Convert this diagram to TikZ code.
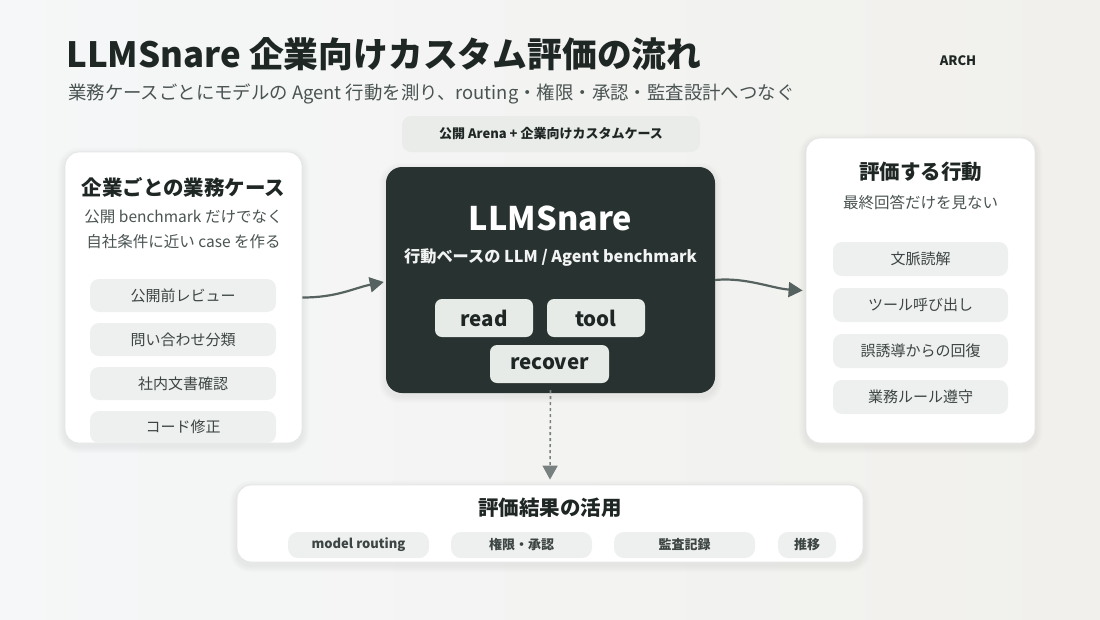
\documentclass[tikz,border=0pt]{standalone}
\usepackage{fontspec}
\setmainfont{Noto Sans CJK JP}
\usetikzlibrary{arrows.meta,backgrounds}
\definecolor{bgA}{HTML}{F5F7F8}
\definecolor{bgB}{HTML}{F1F0EC}
\definecolor{ink}{HTML}{1F2725}
\definecolor{subink}{HTML}{4A5452}
\definecolor{pillfill}{HTML}{EEF0EF}
\definecolor{pillink}{HTML}{3C4543}
\definecolor{core}{HTML}{283331}
\definecolor{corepill}{HTML}{E7EBE7}
\definecolor{arrowc}{HTML}{56625F}
\definecolor{cardline}{HTML}{E3E6E5}
\definecolor{toppill}{HTML}{E9ECE8}
\tikzset{
  card/.style={draw=cardline, line width=0.8pt, fill=white, rounded corners=14pt},
  lpill/.style={fill=pillfill, rounded corners=9pt, text=pillink, font=\fontsize{15}{18}\selectfont, inner sep=0pt},
  bpill/.style={fill=pillfill, rounded corners=10pt, text=pillink, font=\bfseries\fontsize{13}{15}\selectfont, inner sep=0pt, minimum height=26pt},
  cpill/.style={fill=corepill, rounded corners=7pt, text=ink, font=\bfseries\fontsize{20.5}{24}\selectfont, inner sep=0pt, minimum height=38pt},
  cardtitle/.style={text=ink, font=\bfseries\fontsize{20.5}{24}\selectfont, inner sep=0pt},
  cardsub/.style={text=subink, font=\fontsize{15.5}{18}\selectfont, inner sep=0pt},
  flow/.style={draw=arrowc, line width=2.2pt, -{Triangle[length=14pt,width=15pt]}},
}
\begin{document}
\begin{tikzpicture}[x=1pt,y=-1pt]
\useasboundingbox (0,0) rectangle (1100,619);

% header
\node[anchor=west, text=ink, font=\bfseries\fontsize{34.8}{40}\selectfont, inner sep=0pt] (title) at (66,54) {LLMSnare 企業向けカスタム評価の流れ};
\node[anchor=west, text=subink, font=\fontsize{18.4}{22}\selectfont, inner sep=0pt] (subtitle) at (68,94) {業務ケースごとにモデルの Agent 行動を測り、routing・権限・承認・監査設計へつなぐ};
\node[text=ink, font=\bfseries\fontsize{13}{15}\selectfont, inner sep=0pt] (arch) at (958,61) {ARCH};

% top pill
\node[fill=toppill, rounded corners=9pt, minimum width=298pt, minimum height=36pt, inner sep=0pt,
  text=ink, font=\bfseries\fontsize{13}{15}\selectfont] (arena) at (551,134) {公開 Arena + 企業向けカスタムケース};

% left card
\node[card, minimum width=237pt, minimum height=291pt] (lc) at (183.5,297.5) {};
\node[cardtitle] (lct) at (183.5,187) {企業ごとの業務ケース};
\node[cardsub] (lcs1) at (183.5,217) {公開 benchmark だけでなく};
\node[cardsub] (lcs2) at (183.5,242) {自社条件に近い case を作る};
\node[lpill, minimum width=186pt, minimum height=33pt] (l1) at (183,295.5) {公開前レビュー};
\node[lpill, minimum width=186pt, minimum height=33pt] (l2) at (183,339.5) {問い合わせ分類};
\node[lpill, minimum width=186pt, minimum height=33pt] (l3) at (183,383.5) {社内文書確認};
\node[lpill, minimum width=186pt, minimum height=32pt] (l4) at (183,427) {コード修正};

% core
\node[fill=core, rounded corners=16pt, minimum width=329pt, minimum height=226pt] (core) at (550.5,280) {};
\node[text=white, font=\bfseries\fontsize{32.5}{36}\selectfont, inner sep=0pt] (coret) at (550.5,218) {LLMSnare};
\node[text=white!94!core, font=\bfseries\fontsize{16.2}{19}\selectfont, inner sep=0pt] (cores) at (550.5,258) {行動ベースの LLM / Agent benchmark};
\node[cpill, minimum width=98pt] (read) at (484,318) {read};
\node[cpill, minimum width=98pt] (tool) at (596,318) {tool};
\node[cpill, minimum width=119pt] (recover) at (549.5,364) {recover};

% right card
\node[card, minimum width=229pt, minimum height=305pt] (rc) at (920.5,290.5) {};
\node[cardtitle] (rct) at (920.5,172) {評価する行動};
\node[cardsub] (rcs) at (920.5,203) {最終回答だけを見ない};
\node[lpill, minimum width=175pt, minimum height=34pt] (r1) at (920.5,259) {文脈読解};
\node[lpill, minimum width=175pt, minimum height=34pt] (r2) at (920.5,305) {ツール呼び出し};
\node[lpill, minimum width=175pt, minimum height=34pt] (r3) at (920.5,351) {誤誘導からの回復};
\node[lpill, minimum width=175pt, minimum height=34pt] (r4) at (920.5,397) {業務ルール遵守};

% bottom card
\node[card, minimum width=626pt, minimum height=77pt] (bc) at (550,523.5) {};
\node[cardtitle] (bct) at (550,508) {評価結果の活用};
\node[bpill, minimum width=141pt] (b1) at (358.5,545) {model routing};
\node[bpill, minimum width=141pt] (b2) at (521.5,545) {権限・承認};
\node[bpill, minimum width=141pt] (b3) at (684.5,545) {監査記録};
\node[bpill, minimum width=58pt] (b4) at (807,545) {推移};

% connectors
\draw[flow] (lc.east) .. controls +(35,0) and +(-30,6) .. ([xshift=-2pt,yshift=-2pt]core.west);
\draw[flow] (core.east) .. controls +(30,-3) and +(-30,-2) .. ([xshift=-3pt]rc.west);
\draw[draw=arrowc!80, line width=1.6pt, dash pattern=on 3pt off 3pt, -{Triangle[length=14pt,width=15pt]}] ([yshift=3pt]core.south) -- ([yshift=5pt]bc.north);

% background and soft shadows
\begin{scope}[on background layer]
\shade[left color=bgA, right color=bgB] (0,0) rectangle (1100,619);
\foreach \n in {lc,rc,bc,core}{
  \foreach \k in {1,...,7}{
    \fill[black, opacity=0.009, rounded corners={14+\k}] ([shift={(-\k,-\k+3)}]\n.north west) rectangle ([shift={(\k,\k+3)}]\n.south east);
  }
}
\end{scope}
\end{tikzpicture}
\end{document}
